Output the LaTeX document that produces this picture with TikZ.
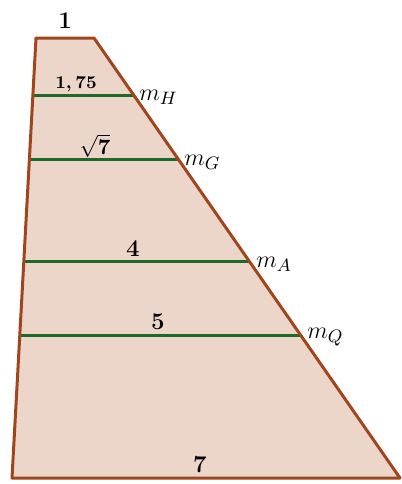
\documentclass[tikz,border=0pt]{standalone}
\usepackage{amsmath}
\definecolor{fillc}{RGB}{236,214,201}
\definecolor{edgec}{RGB}{160,70,30}
\definecolor{greenc}{RGB}{30,105,40}
\begin{document}
\begin{tikzpicture}[x=0.5pt,y=-0.5pt,
  edge/.style={draw=edgec,line width=1.5pt,line join=round},
  level/.style={draw=greenc,line width=1.5pt},
  lab/.style={inner sep=0pt,font=\fontsize{13}{15}\selectfont}]
\useasboundingbox (0,0) rectangle (402,484);
\coordinate (TL) at (36,38);
\coordinate (TR) at (94,38);
\coordinate (BR) at (400,478);
\coordinate (BL) at (12,478);
\fill[fillc] (TL) -- (TR) -- (BR) -- (BL) -- cycle;
\coordinate (H1) at (32.9,95);  \coordinate (H2) at (133.6,95);
\coordinate (G1) at (29.4,159); \coordinate (G2) at (178.2,159);
\coordinate (A1) at (23.8,261); \coordinate (A2) at (249.1,261);
\coordinate (Q1) at (19.8,335); \coordinate (Q2) at (300.6,335);
\draw[level] (H1) -- (H2);
\draw[level] (G1) -- (G2);
\draw[level] (A1) -- (A2);
\draw[level] (Q1) -- (Q2);
\draw[edge] (TL) -- (TR) -- (BR) -- (BL) -- cycle;
\node[lab] (t1) at (65,21) {$\boldsymbol{1}$};
\node[lab,font=\fontsize{9.5}{11}\selectfont] (t175) at (76,84) {$\boldsymbol{1,75}$};
\node[lab,font=\fontsize{11}{13}\selectfont] (ts7) at (95,146) {$\sqrt{\boldsymbol{7}}$};
\node[lab] (t4) at (133,249) {$\boldsymbol{4}$};
\node[lab] (t5) at (158,322) {$\boldsymbol{5}$};
\node[lab] (t7) at (200,465) {$\boldsymbol{7}$};
\node[lab,anchor=west] (mH) at (139,97) {$m_H$};
\node[lab,anchor=west] (mG) at (184,162) {$m_G$};
\node[lab,anchor=west] (mA) at (256,264) {$m_A$};
\node[lab,anchor=west] (mQ) at (307,337) {$m_Q$};
\end{tikzpicture}
\end{document}
